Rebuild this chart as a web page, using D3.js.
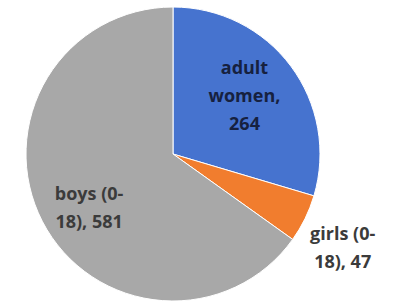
<!DOCTYPE html>
<html>
<head>
<meta charset="utf-8">
<script src="https://d3js.org/d3.v7.min.js"></script>
<style>
  body { margin: 0; background: #fff; }
  text { font-family: "Open Sans", "Liberation Sans", sans-serif; font-weight: bold; }
</style>
</head>
<body>
<svg id="svgpie" width="395" height="308"></svg>
<script>
// slice data
var groups = ["adult women", "girls (0-18)", "boys (0-18)"];
var counts = [264, 47, 581];
var labelLines = [["adult", "women,", "264"], ["girls (0-", "18), 47"], ["boys (0-", "18), 581"]];
var colors = ["#4673cf", "#f17d2e", "#a8a8a8"];
var textColors = ["#16213f", "#3b3b3b", "#3b3b3b"];

var svg = d3.select("#svgpie"),
    cx = 173,
    cy = 154,
    radius = 147;

var g = svg.append("g")
    .attr("transform", "translate(" + cx + "," + cy + ")");

var data = groups.map(function(d, i) {
    return { name: d, value: counts[i], lines: labelLines[i], i: i };
});

var pie = d3.pie().sort(null).value(function(d) { return d.value; });

var path = d3.arc()
    .outerRadius(radius)
    .innerRadius(0);

// label radius and angle nudge per slice (inside for big ones, outside for girls)
var labelR = [92, 194, 100];
var labelShift = [-0.04, 0.052, -0.1];

var arc = g.selectAll(".arc")
    .data(pie(data))
    .enter().append("g")
    .attr("class", "arc");

arc.append("path")
    .attr("d", path)
    .attr("fill", function(d) { return colors[d.data.i]; })
    .attr("stroke", "#fff")
    .attr("stroke-width", 1);

arc.append("text")
    .attr("transform", function(d) {
        var a = (d.startAngle + d.endAngle) / 2 + labelShift[d.data.i];
        var r = labelR[d.data.i];
        return "translate(" + (r * Math.sin(a)) + "," + (-r * Math.cos(a)) + ")";
    })
    .attr("text-anchor", "middle")
    .attr("fill", function(d) { return textColors[d.data.i]; })
    .style("font-size", "18px")
    .each(function(d) {
        var t = d3.select(this);
        var n = d.data.lines.length;
        d.data.lines.forEach(function(line, k) {
            t.append("tspan")
                .attr("x", 0)
                .attr("y", (k - (n - 1) / 2) * 28 + 6)
                .text(line);
        });
    });
</script>
</body>
</html>
